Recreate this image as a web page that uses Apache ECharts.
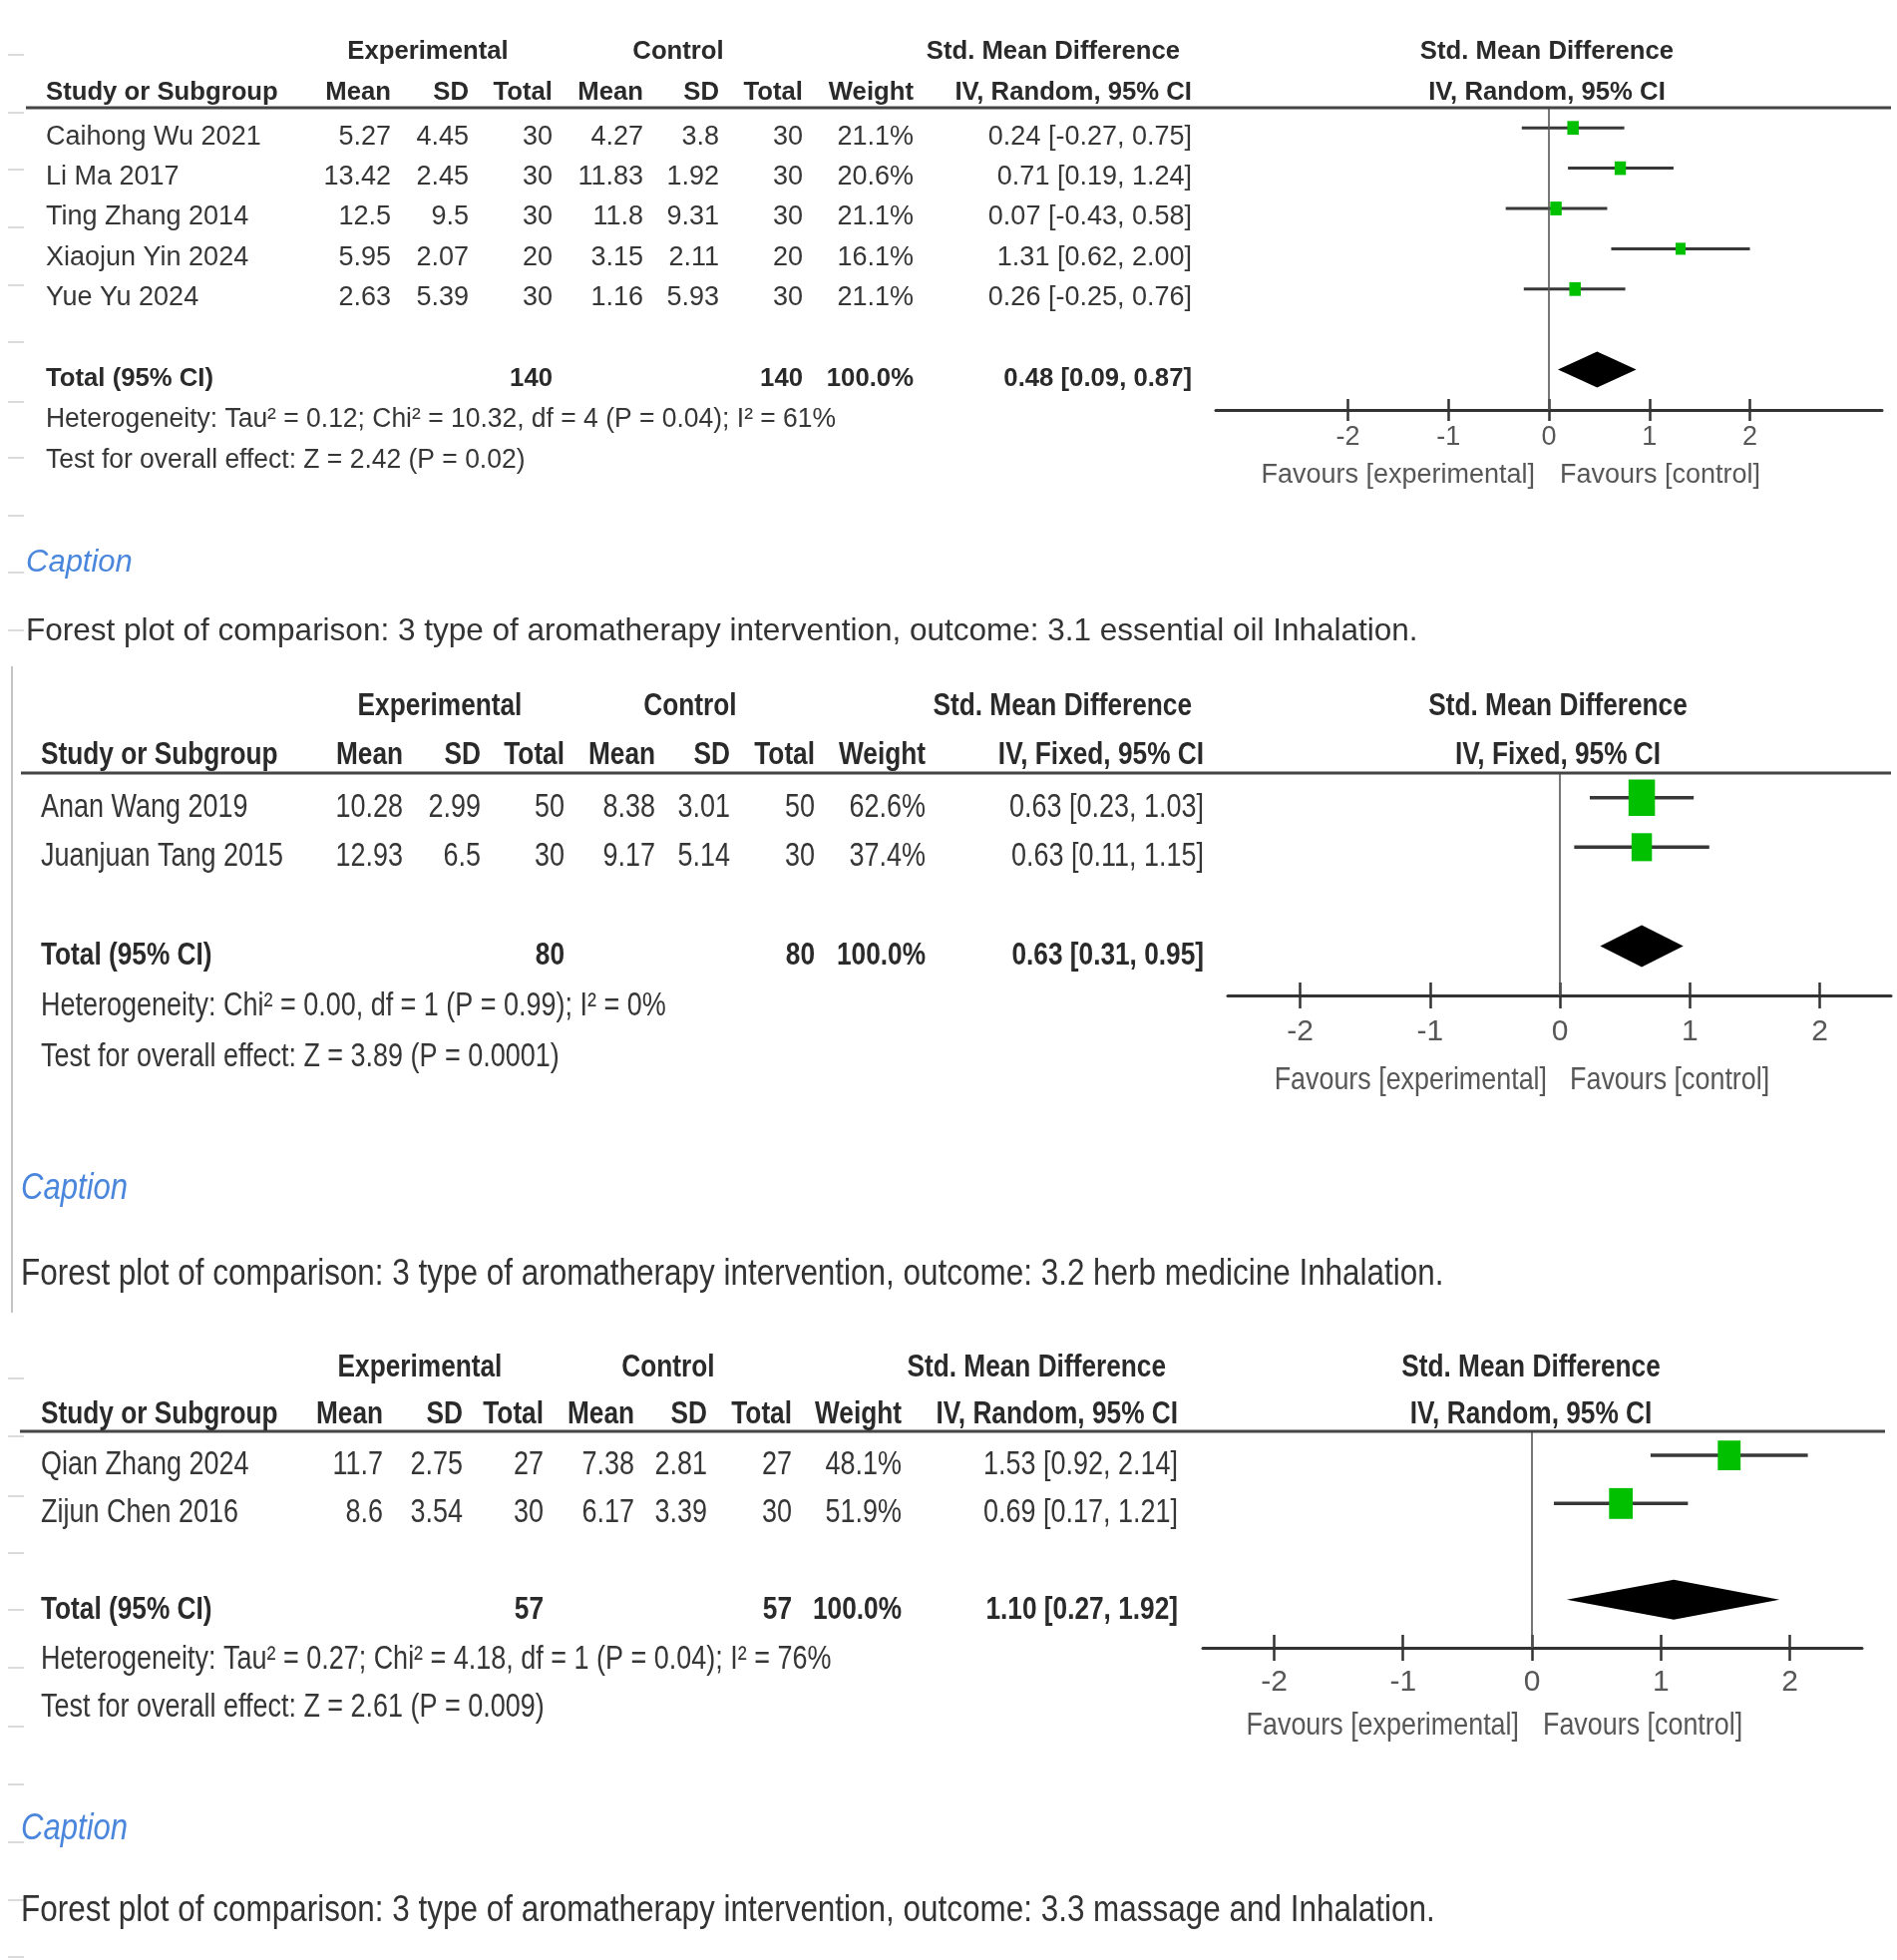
<!DOCTYPE html>
<html>
<head>
<meta charset="utf-8">
<script src="https://cdn.jsdelivr.net/npm/echarts@6/dist/echarts.min.js"></script>
<style>html,body{margin:0;padding:0;background:#fff}#c{width:1902px;height:1965px}</style>
</head>
<body>
<div id="c"></div>
<script>
// ---------------- DATA ----------------
const groupHeads = ['Experimental', 'Control', 'Std. Mean Difference'];
const colHeads = ['Study or Subgroup', 'Mean', 'SD', 'Total', 'Mean', 'SD', 'Total', 'Weight'];
const tickValues = [-2, -1, 0, 1, 2];
const favoursLabels = ['Favours [experimental]', 'Favours [control]'];
const totalLabel = 'Total (95% CI)';
const captionWord = 'Caption';

// Panel 1 : 3.1 essential oil inhalation
const p1Studies = ['Caihong Wu 2021', 'Li Ma 2017', 'Ting Zhang 2014', 'Xiaojun Yin 2024', 'Yue Yu 2024'];
const p1ExpMean = [5.27, 13.42, 12.5, 5.95, 2.63];
const p1ExpSD = [4.45, 2.45, 9.5, 2.07, 5.39];
const p1ExpN = [30, 30, 30, 20, 30];
const p1CtlMean = [4.27, 11.83, 11.8, 3.15, 1.16];
const p1CtlSD = [3.8, 1.92, 9.31, 2.11, 5.93];
const p1CtlN = [30, 30, 30, 20, 30];
const p1Weight = [21.1, 20.6, 21.1, 16.1, 21.1];
const p1SMD = [0.24, 0.71, 0.07, 1.31, 0.26];
const p1Lo = [-0.27, 0.19, -0.43, 0.62, -0.25];
const p1Hi = [0.75, 1.24, 0.58, 2.00, 0.76];
const p1Total = [0.48, 0.09, 0.87];
const p1TotalN = [140, 140];
const p1Method = 'IV, Random, 95% CI';
const p1Het = 'Heterogeneity: Tau\u00b2 = 0.12; Chi\u00b2 = 10.32, df = 4 (P = 0.04); I\u00b2 = 61%';
const p1Test = 'Test for overall effect: Z = 2.42 (P = 0.02)';
const p1Caption = 'Forest plot of comparison: 3 type of aromatherapy intervention, outcome: 3.1 essential oil Inhalation.';

// Panel 2 : 3.2 herb medicine inhalation
const p2Studies = ['Anan Wang 2019', 'Juanjuan Tang 2015'];
const p2ExpMean = [10.28, 12.93];
const p2ExpSD = [2.99, 6.5];
const p2ExpN = [50, 30];
const p2CtlMean = [8.38, 9.17];
const p2CtlSD = [3.01, 5.14];
const p2CtlN = [50, 30];
const p2Weight = [62.6, 37.4];
const p2SMD = [0.63, 0.63];
const p2Lo = [0.23, 0.11];
const p2Hi = [1.03, 1.15];
const p2Total = [0.63, 0.31, 0.95];
const p2TotalN = [80, 80];
const p2Method = 'IV, Fixed, 95% CI';
const p2Het = 'Heterogeneity: Chi\u00b2 = 0.00, df = 1 (P = 0.99); I\u00b2 = 0%';
const p2Test = 'Test for overall effect: Z = 3.89 (P = 0.0001)';
const p2Caption = 'Forest plot of comparison: 3 type of aromatherapy intervention, outcome: 3.2 herb medicine Inhalation.';

// Panel 3 : 3.3 massage and inhalation
const p3Studies = ['Qian Zhang 2024', 'Zijun Chen 2016'];
const p3ExpMean = [11.7, 8.6];
const p3ExpSD = [2.75, 3.54];
const p3ExpN = [27, 30];
const p3CtlMean = [7.38, 6.17];
const p3CtlSD = [2.81, 3.39];
const p3CtlN = [27, 30];
const p3Weight = [48.1, 51.9];
const p3SMD = [1.53, 0.69];
const p3Lo = [0.92, 0.17];
const p3Hi = [2.14, 1.21];
const p3Total = [1.10, 0.27, 1.92];
const p3TotalN = [57, 57];
const p3Method = 'IV, Random, 95% CI';
const p3Het = 'Heterogeneity: Tau\u00b2 = 0.27; Chi\u00b2 = 4.18, df = 1 (P = 0.04); I\u00b2 = 76%';
const p3Test = 'Test for overall effect: Z = 2.61 (P = 0.009)';
const p3Caption = 'Forest plot of comparison: 3 type of aromatherapy intervention, outcome: 3.3 massage and Inhalation.';

// ---------------- LAYOUT / STYLE ----------------
const FF = '"Liberation Sans", Arial, Helvetica, sans-serif';
const C_BODY = '#363636', C_HEAD = '#2a2a2a', C_LIGHT = '#575757', C_BLUE = '#4a86dc', C_GREEN = '#00c000';

const panels = [
  { d: { studies: p1Studies, eM: p1ExpMean, eS: p1ExpSD, eN: p1ExpN, cM: p1CtlMean, cS: p1CtlSD, cN: p1CtlN,
         w: p1Weight, smd: p1SMD, lo: p1Lo, hi: p1Hi, tot: p1Total, totN: p1TotalN, method: p1Method,
         het: p1Het, test: p1Test, caption: p1Caption },
    L: { left: 1219, width: 668, top: 108, bottom: 411, xMin: -3.315, xMax: 3.315, yMax: 8,
         fs: 27, sx: 1.0, hfs: 26.5, hsx: 0.97, noteSx: 0.98,
         cols: [46, 392, 470, 554, 645, 721, 805, 916], ci: 1195,
         h1: 52, h2: 93, expC: 429, ctlC: 680, plotC: 1551, lx1: 26, lx2: 1896,
         dy: 9, hetDy: 41, testDy: 82, capY: 564, forY: 633, capX: 26,
         capFs: 31, capSx: 1, forFs: 31.5, forSx: 1,
         tickFs: 27, tickMargin: 14, tickLen: 11,
         favY: 477, favGapL: 14, favGapR: 11, favFs: 27, favSx: 1,
         k: 2.5, ratio: 1.2, diaH: 18, ciW: 3 } },
  { d: { studies: p2Studies, eM: p2ExpMean, eS: p2ExpSD, eN: p2ExpN, cM: p2CtlMean, cS: p2CtlSD, cN: p2CtlN,
         w: p2Weight, smd: p2SMD, lo: p2Lo, hi: p2Hi, tot: p2Total, totN: p2TotalN, method: p2Method,
         het: p2Het, test: p2Test, caption: p2Caption },
    L: { left: 1231, width: 665, top: 775, bottom: 998, xMin: -2.557, xMax: 2.549, yMax: 5,
         fs: 32.5, sx: 0.83, hfs: 32, hsx: 0.82, noteSx: 0.83,
         cols: [41, 404, 482, 566, 657, 732, 817, 928], ci: 1207,
         h1: 708, h2: 757, expC: 441, ctlC: 692, plotC: 1562, lx1: 21, lx2: 1896,
         dy: 10, hetDy: 51, testDy: 102, capY: 1192, forY: 1278, capX: 21,
         capFs: 37, capSx: 0.84, forFs: 37, forSx: 0.85,
         tickFs: 30, tickMargin: 22, tickLen: 13,
         favY: 1083, favGapL: 13, favGapR: 10, favFs: 32, favSx: 0.84,
         k: 3.35, ratio: 1.37, diaH: 21, ciW: 3.5 } },
  { d: { studies: p3Studies, eM: p3ExpMean, eS: p3ExpSD, eN: p3ExpN, cM: p3CtlMean, cS: p3CtlSD, cN: p3CtlN,
         w: p3Weight, smd: p3SMD, lo: p3Lo, hi: p3Hi, tot: p3Total, totN: p3TotalN, method: p3Method,
         het: p3Het, test: p3Test, caption: p3Caption },
    L: { left: 1206, width: 661, top: 1435, bottom: 1652, xMin: -2.553, xMax: 2.561, yMax: 5,
         fs: 32.5, sx: 0.83, hfs: 32, hsx: 0.82, noteSx: 0.83,
         cols: [41, 384, 464, 545, 636, 709, 794, 904], ci: 1181,
         h1: 1371, h2: 1418, expC: 421, ctlC: 670, plotC: 1535, lx1: 20, lx2: 1890,
         dy: 10, hetDy: 50, testDy: 98, capY: 1834, forY: 1916, capX: 21,
         capFs: 37, capSx: 0.84, forFs: 37, forSx: 0.85,
         tickFs: 30, tickMargin: 20, tickLen: 13,
         favY: 1730, favGapL: 13, favGapR: 11, favFs: 32, favSx: 0.84,
         k: 3.3, ratio: 1.3, diaH: 20, ciW: 3.5 } }
];

// ---------------- CHART ----------------
const chart = echarts.init(document.getElementById('c'), null, { renderer: 'canvas' });
const f2 = v => v.toFixed(2);
const ciText = (s, l, h) => f2(s) + ' [' + f2(l) + ', ' + f2(h) + ']';

const grids = [], xAxes = [], yAxes = [], series = [];
panels.forEach((P, p) => {
  const L = P.L, D = P.d;
  grids.push({ left: L.left, top: L.top, width: L.width, height: L.bottom - L.top, containLabel: false, outerBoundsMode: 'none' });
  xAxes.push({
    gridIndex: p, type: 'value', min: L.xMin, max: L.xMax, position: 'bottom',
    axisLine: { show: true, onZero: false, lineStyle: { color: '#333', width: 3 } },
    axisTick: { show: true, length: L.tickLen, customValues: tickValues, lineStyle: { color: '#333', width: 2.5 } },
    axisLabel: { show: true, customValues: tickValues, formatter: v => String(v), fontSize: L.tickFs, fontFamily: FF, color: C_LIGHT, margin: L.tickMargin },
    splitLine: { show: false }
  });
  xAxes.push({
    gridIndex: p, type: 'value', min: L.xMin, max: L.xMax, position: 'bottom',
    axisLine: { show: false },
    axisTick: { show: true, inside: true, length: L.tickLen, customValues: tickValues, lineStyle: { color: '#333', width: 2.5 } },
    axisLabel: { show: false }, splitLine: { show: false }
  });
  yAxes.push({ gridIndex: p, type: 'value', min: 0.5, max: L.yMax, inverse: true, show: false,
    axisLine: { show: false }, axisTick: { show: false }, axisLabel: { show: false }, splitLine: { show: false } });

  const n = D.studies.length;
  // CI whiskers
  series.push({
    type: 'custom', xAxisIndex: 2 * p, yAxisIndex: p, silent: true, z: 2,
    data: D.lo.map((l, i) => [l, D.hi[i], i + 1]),
    encode: { x: [0, 1], y: 2 },
    renderItem: (params, api) => {
      const a = api.coord([api.value(0), api.value(2)]);
      const b = api.coord([api.value(1), api.value(2)]);
      return { type: 'line', shape: { x1: a[0], y1: a[1], x2: b[0], y2: b[1] }, style: { stroke: '#383838', lineWidth: L.ciW } };
    }
  });
  // point estimates (size by weight)
  series.push({
    type: 'scatter', xAxisIndex: 2 * p, yAxisIndex: p, silent: true, z: 3,
    data: D.smd.map((s, i) => [s, i + 1, D.w[i]]),
    symbol: 'rect',
    symbolSize: v => [L.k * Math.sqrt(v[2]), L.k * L.ratio * Math.sqrt(v[2])],
    itemStyle: { color: C_GREEN, opacity: 1 },
    markLine: { silent: true, symbol: ['none', 'none'], label: { show: false },
      lineStyle: { color: '#555', width: 1.6, type: 'solid' }, data: [{ xAxis: 0 }] }
  });
  // pooled diamond
  series.push({
    type: 'custom', xAxisIndex: 2 * p, yAxisIndex: p, silent: true, z: 3,
    data: [[D.tot[1], D.tot[0], D.tot[2], n + 2]],
    encode: { x: [0, 1, 2], y: 3 },
    renderItem: (params, api) => {
      const r = api.value(3);
      const a = api.coord([api.value(0), r]);
      const m = api.coord([api.value(1), r]);
      const b = api.coord([api.value(2), r]);
      return { type: 'polygon', shape: { points: [[a[0], a[1]], [m[0], m[1] - L.diaH], [b[0], b[1]], [m[0], m[1] + L.diaH]] },
        style: { fill: '#000' } };
    }
  });
});

chart.setOption({
  animation: false, backgroundColor: '#fff',
  grid: grids, xAxis: xAxes, yAxis: yAxes, series: series
});

// ---------------- TEXT (table) ----------------
function T(x, y, text, fs, sx, o) {
  o = o || {};
  const align = o.align || 'left';
  return {
    type: 'text', x: x, y: y, scaleX: sx, scaleY: 1, originX: 0, originY: 0, silent: true, z: 10,
    style: {
      text: text, fontSize: fs, fontFamily: FF, fontWeight: o.bold ? 'bold' : 'normal',
      fontStyle: o.italic ? 'italic' : 'normal', fill: o.color || C_BODY,
      textAlign: align, align: align, textVerticalAlign: 'middle', verticalAlign: 'middle'
    }
  };
}
function Ln(x1, y1, x2, y2, color, w) {
  return { type: 'line', silent: true, z: 5, shape: { x1: x1, y1: y1, x2: x2, y2: y2 }, style: { stroke: color, lineWidth: w } };
}

const els = [];
panels.forEach((P, p) => {
  const L = P.L, D = P.d, c = L.cols;
  const rowY = r => chart.convertToPixel({ xAxisIndex: 2 * p, yAxisIndex: p }, [0, r])[1] + L.dy;
  const zeroX = chart.convertToPixel({ xAxisIndex: 2 * p, yAxisIndex: p }, [0, 1])[0];
  const H = { bold: true, color: C_HEAD };
  // header row 1
  els.push(T(L.expC, L.h1, groupHeads[0], L.hfs, L.hsx, Object.assign({ align: 'center' }, H)));
  els.push(T(L.ctlC, L.h1, groupHeads[1], L.hfs, L.hsx, Object.assign({ align: 'center' }, H)));
  els.push(T(L.ci - 12, L.h1, groupHeads[2], L.hfs, L.hsx, Object.assign({ align: 'right' }, H)));
  els.push(T(L.plotC, L.h1, groupHeads[2], L.hfs, L.hsx, Object.assign({ align: 'center' }, H)));
  // header row 2
  els.push(T(c[0], L.h2, colHeads[0], L.hfs, L.hsx, H));
  for (let j = 1; j < 8; j++) els.push(T(c[j], L.h2, colHeads[j], L.hfs, L.hsx, Object.assign({ align: 'right' }, H)));
  els.push(T(L.ci, L.h2, D.method, L.hfs, L.hsx, Object.assign({ align: 'right' }, H)));
  els.push(T(L.plotC, L.h2, D.method, L.hfs, L.hsx, Object.assign({ align: 'center' }, H)));
  // header rule
  els.push(Ln(L.lx1, L.top, L.lx2, L.top, '#454545', 3));
  // study rows
  D.studies.forEach((s, i) => {
    const y = rowY(i + 1);
    const vals = [String(D.eM[i]), String(D.eS[i]), String(D.eN[i]), String(D.cM[i]), String(D.cS[i]), String(D.cN[i]), D.w[i].toFixed(1) + '%'];
    els.push(T(c[0], y, s, L.fs, L.sx));
    vals.forEach((v, j) => els.push(T(c[j + 1], y, v, L.fs, L.sx, { align: 'right' })));
    els.push(T(L.ci, y, ciText(D.smd[i], D.lo[i], D.hi[i]), L.fs, L.sx, { align: 'right' }));
  });
  // total row
  const ty = rowY(D.studies.length + 2);
  els.push(T(c[0], ty, totalLabel, L.hfs, L.hsx, H));
  els.push(T(c[3], ty, String(D.totN[0]), L.hfs, L.hsx, Object.assign({ align: 'right' }, H)));
  els.push(T(c[6], ty, String(D.totN[1]), L.hfs, L.hsx, Object.assign({ align: 'right' }, H)));
  els.push(T(c[7], ty, '100.0%', L.hfs, L.hsx, Object.assign({ align: 'right' }, H)));
  els.push(T(L.ci, ty, ciText(D.tot[0], D.tot[1], D.tot[2]), L.hfs, L.hsx, Object.assign({ align: 'right' }, H)));
  // heterogeneity & overall test
  els.push(T(c[0], ty + L.hetDy, D.het, L.fs, L.noteSx));
  els.push(T(c[0], ty + L.testDy, D.test, L.fs, L.noteSx));
  // favours labels
  els.push(T(zeroX - L.favGapL, L.favY, favoursLabels[0], L.favFs, L.favSx, { align: 'right', color: C_LIGHT }));
  els.push(T(zeroX + L.favGapR, L.favY, favoursLabels[1], L.favFs, L.favSx, { align: 'left', color: C_LIGHT }));
  // captions
  els.push(T(L.capX, L.capY, captionWord, L.capFs, L.capSx, { italic: true, color: C_BLUE }));
  els.push(T(L.capX, L.forY, D.caption, L.forFs, L.forSx, { color: '#333' }));
});

// faint page artefacts (document margin marks)
const marginMarksTop = [55, 113, 170, 228, 286, 343, 403, 459, 517, 574, 632];
const marginMarksBottom = [1382, 1440, 1500, 1557, 1614, 1672, 1731, 1789, 1847, 1905, 1962];
marginMarksTop.concat(marginMarksBottom).forEach(y => els.push(Ln(8, y, 24, y, '#cfcfcf', 1.5)));
els.push(Ln(12, 668, 12, 1316, '#c4c4c4', 2));

chart.setOption({ graphic: { elements: els } });
</script>
</body>
</html>
